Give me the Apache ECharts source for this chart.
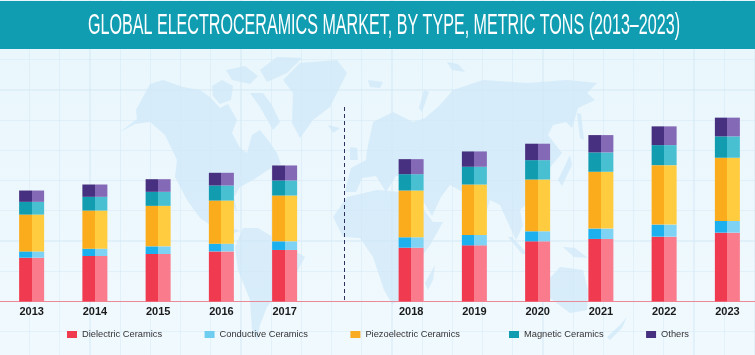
<!DOCTYPE html>
<html>
<head>
<meta charset="utf-8">
<title>Global Electroceramics Market</title>
<script src="https://cdn.jsdelivr.net/npm/echarts@6/dist/echarts.min.js"></script>
<style>
    html, body { margin: 0; padding: 0; }
    body {
        width: 755px;
        height: 355px;
        overflow: hidden;
        background-color: #eaf6fd;
        background-image:
            repeating-linear-gradient(90deg, transparent 0 29px, rgba(212,232,245,0.5) 29px 30.2px),
            repeating-linear-gradient(180deg, transparent 0 29px, rgba(212,232,245,0.5) 29px 30.2px),
            linear-gradient(180deg, #e8f6fc 0%, #f0f9fe 100%);
    }
    #chart { width: 755px; height: 355px; }
</style>
</head>
<body>
<div id="chart"></div>
<script>
// values (the blank category makes the gap with the divider)
let years = ["2013", "2014", "2015", "2016", "2017", "", "2018", "2019", "2020", "2021", "2022", "2023"];
let dielectric = [43.7, 45.4, 47.4, 50, 51.4, null, 53.7, 56, 60, 62.4, 64.7, 68.7];
let conductive = [6.3, 7.3, 7.6, 7.7, 8.6, null, 10.3, 10.4, 10, 10.3, 12, 11.7];
let piezoelectric = [36.7, 38, 40.4, 43, 45.7, null, 46.7, 50.3, 51.7, 56.7, 59.3, 63];
let magnetic = [12.7, 13.7, 14, 15, 15, null, 16.3, 17.7, 19.3, 19.3, 20, 21.3];
let others = [11.3, 12.3, 12.6, 12.7, 15, null, 15, 15.3, 16.4, 17.3, 18.7, 18.7];

let seriesNames = ["Dielectric Ceramics", "Conductive Ceramics", "Piezoelectric Ceramics", "Magnetic Ceramics", "Others"];
let seriesValues = [dielectric, conductive, piezoelectric, magnetic, others];
let darkColors = ["#f03a50", "#1cb0ee", "#fbac1c", "#129cb0", "#47307f"];
let lightColors = ["#f97b8c", "#7ed3f5", "#ffcb3f", "#48c0d2", "#8469b6"];
let legendColors = ["#f03a50", "#6fcdf0", "#f9ac22", "#129cb0", "#47307f"];

let titleText = "GLOBAL ELECTROCERAMICS MARKET, BY TYPE, METRIC TONS (2013–2023)";

// background world map, rough outlines only
let mapShapes = [
    // north america
    [[120,132],[137,119],[136,110],[150,84],[163,80],[183,87],[200,90],[210,97],[220,108],[228,104],[237,120],[232,133],[240,148],[247,153],[252,135],[260,130],[268,140],[277,153],[281,164],[268,170],[253,180],[240,187],[234,197],[237,212],[228,200],[215,203],[210,215],[222,224],[240,231],[234,233],[215,228],[200,218],[187,200],[175,177],[177,160],[165,135],[150,122],[135,124]],
    // arctic islands
    [[212,86],[222,80],[233,86],[231,100],[220,104],[213,96]],
    [[226,70],[245,66],[258,76],[250,84],[232,80]],
    [[250,93],[263,93],[272,105],[280,122],[273,130],[260,107]],
    [[260,70],[277,57],[302,58],[287,73],[267,82]],
    // greenland
    [[283,80],[300,63],[337,60],[347,73],[330,107],[313,120],[300,138],[292,123],[293,93]],
    [[328,125],[340,128],[333,133]],
    // south america
    [[243,228],[258,228],[273,237],[290,248],[305,257],[297,272],[283,283],[274,298],[267,307],[260,325],[257,340],[252,330],[250,300],[238,270],[235,247]],
    // eurasia
    [[347,183],[351,168],[366,160],[367,150],[373,122],[393,112],[413,122],[425,118],[440,105],[453,90],[483,80],[527,83],[567,80],[597,83],[587,93],[595,100],[578,108],[572,128],[566,122],[553,125],[548,135],[562,153],[552,165],[540,182],[532,200],[520,210],[523,226],[516,240],[509,225],[500,205],[490,200],[481,228],[468,195],[450,185],[441,197],[432,216],[418,192],[410,176],[396,176],[386,192],[376,176],[362,178],[356,192],[345,192]],
    [[350,147],[357,148],[358,160],[350,160]],
    [[368,80],[383,82],[380,88],[370,87]],
    [[447,62],[458,64],[465,72],[452,70]],
    [[424,90],[429,92],[422,112],[419,108]],
    // africa
    [[333,217],[347,197],[377,190],[400,192],[413,193],[424,210],[433,222],[443,222],[430,245],[417,263],[412,285],[407,297],[392,304],[384,290],[373,257],[360,238],[343,237]],
    [[425,283],[435,265],[433,280],[428,290]],
    // asia islands
    [[577,113],[581,114],[584,140],[580,138]],
    [[570,155],[572,165],[562,186],[558,180]],
    [[508,237],[512,237],[528,254],[522,254]],
    [[530,225],[546,222],[548,238],[534,242]],
    [[563,247],[575,248],[588,258],[574,257]],
    // australia and new zealand
    [[550,278],[560,267],[583,270],[588,290],[587,310],[570,313],[550,298]],
    [[607,337],[620,325],[627,317],[622,328],[610,340]]
];

let mapElements = [];
for (let i = 0; i < mapShapes.length; i++) {
    mapElements.push({
        type: "polygon",
        z: -10,
        shape: {points: mapShapes[i]},
        style: {fill: "rgba(208,232,248,0.75)"}
    });
}

function splitColor(i) {
    return new echarts.graphic.LinearGradient(0, 0, 1, 0, [
        {offset: 0, color: darkColors[i]},
        {offset: 0.5, color: darkColors[i]},
        {offset: 0.5, color: lightColors[i]},
        {offset: 1, color: lightColors[i]}
    ]);
}

let barSeries = [];
let legendData = [];
for (let i = 0; i < seriesNames.length; i++) {
    barSeries.push({
        name: seriesNames[i],
        type: "bar",
        stack: "total",
        barWidth: 25,
        data: seriesValues[i],
        itemStyle: {color: splitColor(i)}
    });
    legendData.push({name: seriesNames[i], itemStyle: {color: legendColors[i]}});
}

// dashed divider between history and forecast
barSeries[0].markLine = {
    silent: true,
    symbol: "none",
    label: {show: false},
    lineStyle: {color: "#2f3160", type: [4, 3], width: 1},
    data: [[{x: 344.5, y: 107}, {x: 344.5, y: 301}]]
};

// no condensed font installed, so squeeze a normal one to the title's width
let titleFont = "29px 'Liberation Sans'";
let measureCtx = document.createElement("canvas").getContext("2d");
measureCtx.font = titleFont;
let titleScale = 592 / measureCtx.measureText(titleText).width;

function legendPart(items, left) {
    return {
        data: items,
        left: left,
        top: 330,
        padding: 0,
        icon: "rect",
        itemWidth: 10,
        itemHeight: 7,
        itemGap: 42.5,
        textStyle: {
            color: "#333333",
            fontFamily: "Liberation Sans",
            fontSize: 9.3
        }
    };
}

let chart = echarts.init(document.getElementById("chart"));
chart.setOption({
    animation: false,
    backgroundColor: "transparent",
    // two parts because the gap after the piezoelectric label is wider in the picture
    legend: [legendPart(legendData.slice(0, 3), 67), legendPart(legendData.slice(3), 509)],
    grid: {left: 0, top: 101, width: 759, height: 200.5, outerBoundsMode: "none"},
    xAxis: {
        type: "category",
        data: years,
        axisTick: {show: false},
        axisLine: {lineStyle: {color: "#ea8a98", width: 1}},
        axisLabel: {
            interval: 0,
            margin: 5,
            color: "#1a1a1a",
            fontFamily: "Liberation Sans",
            fontWeight: "bold",
            fontSize: 11
        }
    },
    yAxis: {type: "value", min: 0, max: 200, show: false},
    graphic: [
        {type: "rect", z: -5, shape: {x: 0, y: 1, width: 755, height: 48}, style: {fill: "#119db1"}},
        {
            type: "text",
            z: 5,
            x: 88,
            y: 26,
            scaleX: titleScale,
            style: {
                text: titleText,
                font: titleFont,
                fill: "#ffffff",
                verticalAlign: "middle"
            }
        },
        ...mapElements
    ],
    series: barSeries
});
</script>
</body>
</html>
